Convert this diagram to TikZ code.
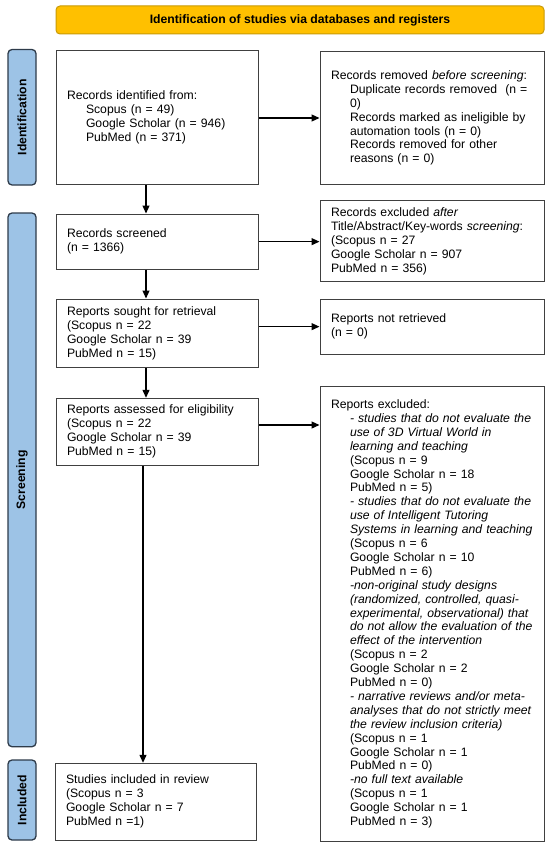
\documentclass[tikz,border=0pt]{standalone}
\usepackage{fontspec}
\setmainfont{Liberation Sans}
\usetikzlibrary{arrows.meta}
\definecolor{bannerfill}{HTML}{FFC000}
\definecolor{bannerdraw}{HTML}{C99A06}
\definecolor{sidefill}{HTML}{9DC3E6}
\definecolor{sidedraw}{HTML}{2E3B4A}
\definecolor{boxdraw}{HTML}{404040}
\newcommand{\bodyfont}{\fontsize{12.2}{13.9}\selectfont}
\newcommand{\subl}[1]{\hspace*{19pt}\mbox{#1}}
\begin{document}
\begin{tikzpicture}[x=1pt,y=-1pt,
  box/.style={draw=boxdraw, line width=1pt, rectangle, inner xsep=11pt, inner ysep=0pt,
    align=left, font=\bodyfont},
  lbox/.style={box, text width=180pt},
  rbox/.style={box, text width=202.5pt},
  side/.style={draw=sidedraw, fill=sidefill, line width=1.3pt, rounded corners=4pt,
    rotate=90, inner sep=0pt, font=\fontsize{12.2}{14}\selectfont\bfseries, minimum height=28pt},
  banner/.style={draw=bannerdraw, fill=bannerfill, line width=1pt, rounded corners=4pt,
    inner sep=0pt, font=\fontsize{12.2}{14}\selectfont\bfseries},
  arr/.style={line width=1.2pt, -{Triangle[length=8pt,width=7pt]}}]
\useasboundingbox (0,0) rectangle (550,848);
\fill[white] (0,0) rectangle (550,848);

\node[banner, minimum width=488pt, minimum height=28pt] (ban) at (300,20) {Identification of studies via databases and registers};

\node[side, minimum width=135.5pt] (sid) at (22,117.25) {Identification};
\node[side, minimum width=533.7pt] (sscr) at (22,479.85) {Screening};
\node[side, minimum width=80pt] (sinc) at (22,800) {Included};

\node[lbox, minimum height=133.5pt] (b1) at (157,117.25) {Records identified from:\\
\subl{Scopus (n = 49)}\\
\subl{Google Scholar (n = 946)}\\
\subl{PubMed (n = 371)}};

\node[rbox, minimum height=132pt] (r1) at (432.25,118) {Records removed \textit{before screening}:\\
\subl{Duplicate records removed\ \ (n =}\\
\subl{0)}\\
\subl{Records marked as ineligible by}\\
\subl{automation tools (n = 0)}\\
\subl{Records removed for other}\\
\subl{reasons (n = 0)}};

\node[lbox, minimum height=55.3pt] (b2) at (157,241.65) {Records screened\\
(n = 1366)};

\node[rbox, minimum height=81pt] (r2) at (432.25,241.2) {Records excluded \textit{after}\\
Title/Abstract/Key-words \textit{screening}:\\
(Scopus n = 27\\
Google Scholar n = 907\\
PubMed n = 356)};

\node[lbox, minimum height=68.7pt] (b3) at (157,333.35) {Reports sought for retrieval\\
(Scopus n = 22\\
Google Scholar n = 39\\
PubMed n = 15)};

\node[rbox, minimum height=55.3pt] (r3) at (432.25,326.65) {Reports not retrieved\\
(n = 0)};

\node[lbox, minimum height=66.7pt] (b4) at (157,431.65) {Reports assessed for eligibility\\
(Scopus n = 22\\
Google Scholar n = 39\\
PubMed n = 15)};

\node[rbox, minimum height=454.3pt] (r4) at (432.25,613.85) {Reports excluded:\\
\subl{\textit{- studies that do not evaluate the}}\\
\subl{\textit{use of 3D Virtual World in}}\\
\subl{\textit{learning and teaching}}\\
\subl{(Scopus n = 9}\\
\subl{Google Scholar n = 18}\\
\subl{PubMed n = 5)}\\
\subl{\textit{- studies that do not evaluate the}}\\
\subl{\textit{use of Intelligent Tutoring}}\\
\subl{\textit{Systems in learning and teaching}}\\
\subl{(Scopus n = 6}\\
\subl{Google Scholar n = 10}\\
\subl{PubMed n = 6)}\\
\subl{\textit{-non-original study designs}}\\
\subl{\textit{(randomized, controlled, quasi-}}\\
\subl{\textit{experimental, observational) that}}\\
\subl{\textit{do not allow the evaluation of the}}\\
\subl{\textit{effect of the intervention}}\\
\subl{(Scopus n = 2}\\
\subl{Google Scholar n = 2}\\
\subl{PubMed n = 0)}\\
\subl{\textit{- narrative reviews and/or meta-}}\\
\subl{\textit{analyses that do not strictly meet}}\\
\subl{\textit{the review inclusion criteria)}}\\
\subl{(Scopus n = 1}\\
\subl{Google Scholar n = 1}\\
\subl{PubMed n = 0)}\\
\subl{\textit{-no full text available}}\\
\subl{(Scopus n = 1}\\
\subl{Google Scholar n = 1}\\
\subl{PubMed n = 3)}};

\node[box, text width=179pt, minimum height=76.7pt] (b5) at (155.5,801.65) {Studies included in review\\
(Scopus n = 3\\
Google Scholar n = 7\\
PubMed n =1)};

\coordinate (colA) at (146,0);
\coordinate (colB) at (143,0);
\coordinate (rowD) at (0,425);

\draw[arr] (b1.south -| colA) -- (b2.north -| colA);
\draw[arr] (b2.south -| colA) -- (b3.north -| colA);
\draw[arr] (b3.south -| colA) -- (b4.north -| colA);
\draw[arr] (b4.south -| colB) -- (b5.north -| colB);

\draw[arr] (b1.east |- r1.west) -- (r1.west);
\draw[arr] (b2.east) -- (b2.east -| r2.west);
\draw[arr] (b3.east |- r3.west) -- (r3.west);
\draw[arr] (b4.east |- rowD) -- (r4.west |- rowD);
\end{tikzpicture}
\end{document}
